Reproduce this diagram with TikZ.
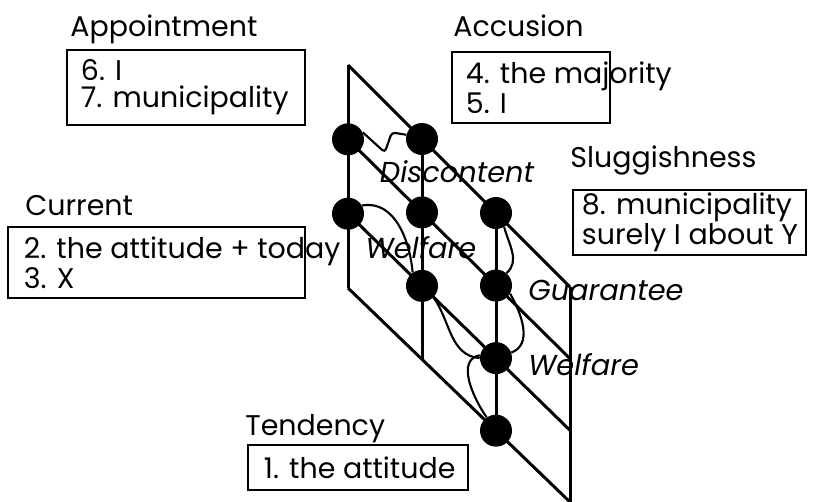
\documentclass[tikz,border=0pt]{standalone}
\usepackage{fontspec}
\setmainfont{Poppins}
\usetikzlibrary{calc,positioning}

\begin{document}
\begin{tikzpicture}[
  frame/.style={draw, line width=1.6pt, inner sep=0pt},
  entry/.style={align=left, inner sep=0pt, font=\fontsize{16.2}{15.2}\selectfont},
  title/.style={anchor=base west, inner sep=0pt, font=\fontsize{16.2}{18}\selectfont},
  tag/.style={inner sep=0pt, font=\fontsize{16.4}{18}\selectfont\itshape},
  dot/.style={circle, fill, inner sep=0pt, minimum size=6.4mm},
  edge/.style={line width=1.7pt},
  wire/.style={line width=1.2pt, rounded corners=2pt}
]
\useasboundingbox (0,0) rectangle (16.26,-10.02);

% lattice corners
\coordinate (tl) at (6.96,-1.30);
\coordinate (tr) at (11.40,-5.74);
\coordinate (bl) at (6.96,-5.76);
\coordinate (br) at (11.40,-10.04);

\foreach \i in {0,...,3} {
  \coordinate (t\i) at ($(tl)!\i/3!(tr)$);
  \coordinate (b\i) at ($(bl)!\i/3!(br)$);
  \coordinate (l\i) at ($(tl)!\i/3!(bl)$);
  \coordinate (r\i) at ($(tr)!\i/3!(br)$);
}
\foreach \i in {0,...,3} {
  \draw[edge] (t\i) -- (b\i);
  \draw[edge] (l\i) -- (r\i);
}

% dots on the crossings
\foreach \i/\j in {0/1,1/0,0/2,1/1,2/0,1/2,2/1,2/2,2/3}
  \node[dot] (n\i\j) at ($(t\i)!\j/3!(b\i)$) {};

% links between dots
\draw[wire] (n01.25) -- ++(0.44,-0.40) -- ++(0.14,0.40) -- (n10.165);
\draw[wire] (n02.30) to[out=10,in=95] (n12.125);
\draw[wire] (n20.-60) to[out=-75,in=40] (n21.50);
\draw[wire] (n12.-45) to[out=-55,in=175] (n22.west);
\draw[wire] (n21.-30) to[out=-60,in=20] (n22.20);
\draw[wire] (n22.170) to[out=190,in=125] (n23.125);

\node[tag] (discontent) at (9.14,-3.44) {Discontent};
\node[tag] (welfareA) at (8.42,-4.96) {Welfare};
\node[tag, anchor=west] (guarantee) at (10.56,-5.80) {Guarantee};
\node[tag, anchor=west] (welfareB) at (10.56,-7.30) {Welfare};

% boxes
\node[title] (apptitle) at (1.40,-0.73) {Appointment};
\node[frame, minimum width=4.76cm, minimum height=1.50cm] (appbox) at (3.72,-1.75) {};
\node[entry, right=0.30cm of appbox.west] (apptext) {6. I\\7. municipality};

\node[title] (acctitle) at (9.06,-0.73) {Accusion};
\node[frame, minimum width=3.16cm, minimum height=1.42cm] (accbox) at (10.62,-1.75) {};
\node[entry, right=0.30cm of accbox.west] (acctext) {4. the majority\\5. I};

\node[title] (slugtitle) at (11.40,-3.34) {Sluggishness};
\node[frame, minimum width=4.66cm, minimum height=1.30cm] (slugbox) at (13.79,-4.45) {};
\node[entry, right=0.20cm of slugbox.west] (slugtext) {8. municipality\\surely I about Y};

\node[title] (curtitle) at (0.50,-4.30) {Current};
\node[frame, minimum width=5.94cm, minimum height=1.42cm] (curbox) at (3.13,-5.25) {};
\node[entry, right=0.34cm of curbox.west] (curtext) {2. the attitude + today\\3. X};

\node[title] (tendtitle) at (4.90,-8.70) {Tendency};
\node[frame, minimum width=4.40cm, minimum height=0.90cm] (tendbox) at (7.16,-9.35) {};
\node[entry, right=0.34cm of tendbox.west] (tendtext) {1. the attitude};

\end{tikzpicture}
\end{document}
